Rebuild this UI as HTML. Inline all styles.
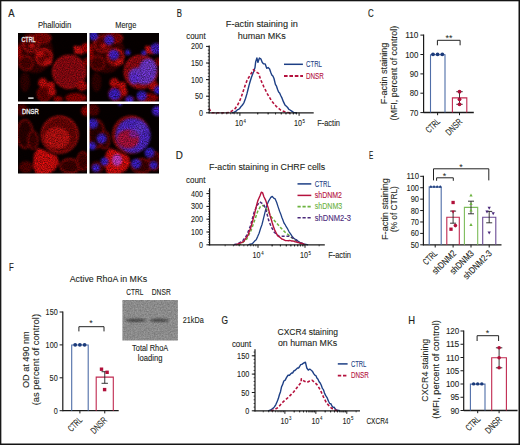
<!DOCTYPE html>
<html><head><meta charset="utf-8"><style>
html,body{margin:0;padding:0;background:#fff;}
svg{display:block;}
text{font-family:"Liberation Sans", sans-serif;}
</style></head><body>
<svg width="520" height="445" viewBox="0 0 520 445">
<rect width="520" height="445" fill="#fff"/>
<text x="8.30" y="17.00" font-size="11.45" fill="#231f20" stroke="#231f20" stroke-width="0.18" textLength="6.30" lengthAdjust="spacingAndGlyphs">A</text>
<text x="176.80" y="17.00" font-size="11.45" fill="#231f20" stroke="#231f20" stroke-width="0.18" textLength="5.20" lengthAdjust="spacingAndGlyphs">B</text>
<text x="368.10" y="17.20" font-size="11.45" fill="#231f20" stroke="#231f20" stroke-width="0.18" textLength="5.70" lengthAdjust="spacingAndGlyphs">C</text>
<text x="175.70" y="159.00" font-size="11.45" fill="#231f20" stroke="#231f20" stroke-width="0.18" textLength="7.10" lengthAdjust="spacingAndGlyphs">D</text>
<text x="369.00" y="159.20" font-size="11.45" fill="#231f20" stroke="#231f20" stroke-width="0.18" textLength="4.20" lengthAdjust="spacingAndGlyphs">E</text>
<text x="8.90" y="271.10" font-size="11.45" fill="#231f20" stroke="#231f20" stroke-width="0.18" textLength="4.70" lengthAdjust="spacingAndGlyphs">F</text>
<text x="221.40" y="324.30" font-size="11.45" fill="#231f20" stroke="#231f20" stroke-width="0.18" textLength="6.50" lengthAdjust="spacingAndGlyphs">G</text>
<text x="408.30" y="324.10" font-size="11.45" fill="#231f20" stroke="#231f20" stroke-width="0.18" textLength="6.80" lengthAdjust="spacingAndGlyphs">H</text>
<defs>
<filter id="bl" x="-20%" y="-20%" width="140%" height="140%"><feGaussianBlur stdDeviation="0.9"/></filter>
<filter id="bl2" x="-20%" y="-20%" width="140%" height="140%"><feGaussianBlur stdDeviation="1.6"/></filter>
<filter id="tx" x="0" y="0" width="1" height="1" color-interpolation-filters="sRGB">
<feGaussianBlur in="SourceGraphic" stdDeviation="0.8" result="b"/>
<feTurbulence type="fractalNoise" baseFrequency="0.85" numOctaves="2" seed="7" result="n"/>
<feColorMatrix in="n" type="matrix" values="1 0 0 0 0  1 0 0 0 0  1 0 0 0 0  0 0 0 0 1" result="g"/>
<feComposite in="b" in2="g" operator="arithmetic" k1="1.2" k2="0.25" k3="0" k4="0"/>
</filter>
<filter id="tx2" x="0" y="0" width="1" height="1" color-interpolation-filters="sRGB">
<feGaussianBlur in="SourceGraphic" stdDeviation="0.6" result="b"/>
<feTurbulence type="fractalNoise" baseFrequency="0.7" numOctaves="2" seed="11" result="n"/>
<feColorMatrix in="n" type="matrix" values="1 0 0 0 0  1 0 0 0 0  1 0 0 0 0  0 0 0 0 1" result="g"/>
<feComposite in="b" in2="g" operator="arithmetic" k1="0.45" k2="0.78" k3="0" k4="0"/>
</filter>
<clipPath id="cblot"><rect x="122.4" y="299.9" width="55.5" height="40.5"/></clipPath>
<clipPath id="ct0"><rect x="18" y="33" width="69" height="68.5"/></clipPath><clipPath id="ct1"><rect x="89.5" y="33" width="69.5" height="68.5"/></clipPath><clipPath id="ct2"><rect x="18" y="104" width="69" height="69.5"/></clipPath><clipPath id="ct3"><rect x="89.5" y="104" width="69.5" height="69.5"/></clipPath></defs>
<g clip-path="url(#ct0)"><g filter="url(#tx)"><rect x="15" y="30" width="75" height="74.5" fill="#060000"/><ellipse cx="35" cy="52" rx="18" ry="21" fill="#380000"/><circle cx="31" cy="44" r="8" fill="#5a0000" stroke="#c41010" stroke-width="1.6"/><circle cx="44" cy="57" r="8" fill="#700404" stroke="#d01010" stroke-width="1.8"/><circle cx="26" cy="63" r="7" fill="#4a0000" stroke="#a00808" stroke-width="1.4"/><ellipse cx="42" cy="38" rx="9" ry="5" fill="#7a0000" stroke="#b00c0c" stroke-width="1.2"/><ellipse cx="48" cy="62" rx="4" ry="3" fill="#d01010"/><ellipse cx="40" cy="54" rx="4" ry="3" fill="#c80c0c"/><ellipse cx="32" cy="46" rx="3" ry="2.5" fill="#d01010"/><ellipse cx="19.5" cy="52" rx="2.5" ry="8" fill="#a00000"/><circle cx="69.2" cy="71.8" r="17" fill="#8c0810"/><circle cx="69.2" cy="71.8" r="16.3" fill="none" stroke="#c81010" stroke-width="1.2"/><ellipse cx="78.6" cy="50" rx="6" ry="3" fill="#d01010" transform="rotate(35 78.6 50)"/><ellipse cx="78.6" cy="50" rx="5.5" ry="2.6" fill="#d01010" transform="rotate(-40 78.6 50)"/><circle cx="86" cy="48" r="5" fill="#a00000"/><circle cx="87" cy="62" r="4" fill="#800000"/><circle cx="42.8" cy="82.7" r="4.7" fill="#c00c0c"/><circle cx="50.6" cy="85.8" r="4" fill="#c80c0c"/><circle cx="44.4" cy="94" r="7" fill="#5a0000" stroke="#a00000" stroke-width="1.4"/><circle cx="52" cy="92" r="4" fill="#c00c0c"/><ellipse cx="76" cy="98" rx="11" ry="5" fill="#8a0000"/><circle cx="82" cy="86" r="5" fill="#b00808"/><ellipse cx="58" cy="99" rx="5" ry="3" fill="#900000"/><ellipse cx="25" cy="82" rx="5" ry="10" fill="#300000"/></g></g>
<g clip-path="url(#ct1)"><g filter="url(#tx)"><rect x="86.5" y="30" width="75.5" height="74.5" fill="#060000"/><ellipse cx="106.5" cy="52" rx="18" ry="21" fill="#380000"/><circle cx="102.5" cy="44" r="8" fill="#5a0000" stroke="#c41010" stroke-width="1.6"/><circle cx="115.5" cy="57" r="8" fill="#700404" stroke="#d01010" stroke-width="1.8"/><circle cx="97.5" cy="63" r="7" fill="#4a0000" stroke="#a00808" stroke-width="1.4"/><ellipse cx="113.5" cy="38" rx="9" ry="5" fill="#7a0000" stroke="#b00c0c" stroke-width="1.2"/><ellipse cx="119.5" cy="62" rx="4" ry="3" fill="#d01010"/><ellipse cx="111.5" cy="54" rx="4" ry="3" fill="#c80c0c"/><ellipse cx="103.5" cy="46" rx="3" ry="2.5" fill="#d01010"/><ellipse cx="91.0" cy="52" rx="2.5" ry="8" fill="#a00000"/><circle cx="140.7" cy="71.8" r="17" fill="#8c0810"/><circle cx="140.7" cy="71.8" r="16.3" fill="none" stroke="#c81010" stroke-width="1.2"/><ellipse cx="150.1" cy="50" rx="6" ry="3" fill="#d01010" transform="rotate(35 150.1 50)"/><ellipse cx="150.1" cy="50" rx="5.5" ry="2.6" fill="#d01010" transform="rotate(-40 150.1 50)"/><circle cx="157.5" cy="48" r="5" fill="#a00000"/><circle cx="158.5" cy="62" r="4" fill="#800000"/><circle cx="114.3" cy="82.7" r="4.7" fill="#c00c0c"/><circle cx="122.1" cy="85.8" r="4" fill="#c80c0c"/><circle cx="115.9" cy="94" r="7" fill="#5a0000" stroke="#a00000" stroke-width="1.4"/><circle cx="123.5" cy="92" r="4" fill="#c00c0c"/><ellipse cx="147.5" cy="98" rx="11" ry="5" fill="#8a0000"/><circle cx="153.5" cy="86" r="5" fill="#b00808"/><ellipse cx="129.5" cy="99" rx="5" ry="3" fill="#900000"/><ellipse cx="96.5" cy="82" rx="5" ry="10" fill="#300000"/><g opacity="0.9"><circle cx="93.7" cy="36" r="4.5" fill="#3a22d8"/><circle cx="109.2" cy="40" r="5" fill="#3a22d8"/><circle cx="113.8" cy="54.7" r="5.2" fill="#3a22d8"/><circle cx="127.8" cy="52.4" r="2.6" fill="#3a22d8"/><circle cx="144" cy="52.9" r="2.5" fill="#3a22d8"/><circle cx="156" cy="48.5" r="5.5" fill="#3a22d8"/><circle cx="114.6" cy="94.3" r="6" fill="#3a22d8"/><circle cx="141.8" cy="95.9" r="5" fill="#3a22d8"/><circle cx="129.4" cy="100" r="4" fill="#3a22d8"/><circle cx="158" cy="90" r="4" fill="#3a22d8"/><path d="M129,79 C127,71 133,67 139,68 C140,61 146,57 151,59 C158,62 158,72 155,78 C152,85 143,86 138,83 C134,86 130,84 129,79 Z" fill="#6a3ae0"/><circle cx="134.5" cy="78" r="5" fill="#5a30e8"/><circle cx="150" cy="66" r="5" fill="#7040e0"/></g></g></g>
<g clip-path="url(#ct2)"><g filter="url(#tx)"><rect x="15" y="101" width="75" height="75.5" fill="#060000"/><ellipse cx="22" cy="110" rx="6" ry="6" fill="#500000"/><ellipse cx="25" cy="134" rx="8" ry="14" fill="#2a0000" stroke="#a00808" stroke-width="1.5"/><ellipse cx="33" cy="140" rx="5" ry="9" fill="#3a0000" stroke="#a00808" stroke-width="1.2"/><circle cx="59.7" cy="134.7" r="18.9" fill="#6a0404"/><circle cx="59.7" cy="134.7" r="18.2" fill="none" stroke="#c01010" stroke-width="1.3"/><ellipse cx="57" cy="138" rx="13" ry="11" fill="#b81010"/><circle cx="86" cy="111" r="5" fill="#900000"/><path d="M34,154 L38,148 L44,150 L50,153 L57,156 L59,163 L55,170 L48,174 L36,174 L33,166 Z" fill="#d00c0c"/><ellipse cx="26" cy="167" rx="7" ry="6" fill="#500000"/><ellipse cx="70" cy="166" rx="10" ry="7" fill="#3a0000" stroke="#b00a0a" stroke-width="1.4"/><ellipse cx="83" cy="161" rx="6" ry="9" fill="#400000" stroke="#a00808" stroke-width="1.3"/></g></g>
<g clip-path="url(#ct3)"><g filter="url(#tx)"><rect x="86.5" y="101" width="75.5" height="75.5" fill="#060000"/><ellipse cx="93.5" cy="110" rx="6" ry="6" fill="#500000"/><ellipse cx="96.5" cy="134" rx="8" ry="14" fill="#2a0000" stroke="#a00808" stroke-width="1.5"/><ellipse cx="104.5" cy="140" rx="5" ry="9" fill="#3a0000" stroke="#a00808" stroke-width="1.2"/><circle cx="131.2" cy="134.7" r="18.9" fill="#6a0404"/><circle cx="131.2" cy="134.7" r="18.2" fill="none" stroke="#c01010" stroke-width="1.3"/><ellipse cx="128.5" cy="138" rx="13" ry="11" fill="#b81010"/><circle cx="157.5" cy="111" r="5" fill="#900000"/><path d="M105.5,154 L109.5,148 L115.5,150 L121.5,153 L128.5,156 L130.5,163 L126.5,170 L119.5,174 L107.5,174 L104.5,166 Z" fill="#d00c0c"/><ellipse cx="97.5" cy="167" rx="7" ry="6" fill="#500000"/><ellipse cx="141.5" cy="166" rx="10" ry="7" fill="#3a0000" stroke="#b00a0a" stroke-width="1.4"/><ellipse cx="154.5" cy="161" rx="6" ry="9" fill="#400000" stroke="#a00808" stroke-width="1.3"/><g opacity="0.9"><circle cx="133" cy="135.5" r="17.5" fill="#4a2ad8"/><ellipse cx="128" cy="139" rx="11" ry="9.5" fill="#a81040"/><ellipse cx="134" cy="134" rx="5" ry="4" fill="#8020a0"/><ellipse cx="140" cy="128" rx="5" ry="6" fill="#5a38e0"/><circle cx="93" cy="123.7" r="5" fill="#3a22d8"/><circle cx="101.6" cy="138.6" r="5" fill="#3a22d8"/><circle cx="92" cy="146" r="4" fill="#3a22d8"/><circle cx="104.7" cy="161.4" r="4" fill="#3a22d8"/><circle cx="136.2" cy="163.8" r="5" fill="#3a22d8"/><circle cx="149.6" cy="152.8" r="5" fill="#3a22d8"/><circle cx="153.5" cy="165.3" r="4" fill="#3a22d8"/><circle cx="157" cy="111" r="5" fill="#3a22d8"/><circle cx="96" cy="168" r="4" fill="#3a22d8"/><circle cx="120" cy="104" r="2" fill="#3a22d8"/><ellipse cx="117" cy="160" rx="5" ry="6" fill="#c040d0"/></g></g></g>
<text x="21.50" y="42.20" font-size="7.56" fill="#ececec" stroke="#ececec" stroke-width="0.35" textLength="14.00" lengthAdjust="spacingAndGlyphs">CTRL</text>
<text x="22.00" y="113.80" font-size="7.56" fill="#ececec" stroke="#ececec" stroke-width="0.35" textLength="16.80" lengthAdjust="spacingAndGlyphs">DNSR</text>
<rect x="28.2" y="97.4" width="5.4" height="1.4" fill="#f4f4f4"/>
<text x="37.90" y="27.90" font-size="8.21" fill="#231f20" stroke="#231f20" stroke-width="0.1" textLength="33.40" lengthAdjust="spacingAndGlyphs">Phalloidin</text>
<text x="115.20" y="27.70" font-size="8.21" fill="#231f20" stroke="#231f20" stroke-width="0.1" textLength="21.10" lengthAdjust="spacingAndGlyphs">Merge</text>
<text x="225.80" y="27.10" font-size="9.83" fill="#231f20" stroke="#231f20" stroke-width="0.1" textLength="72.00" lengthAdjust="spacingAndGlyphs">F-actin staining in</text>
<text x="237.70" y="38.60" font-size="9.83" fill="#231f20" stroke="#231f20" stroke-width="0.1" textLength="48.10" lengthAdjust="spacingAndGlyphs">human MKs</text>
<text x="186.30" y="39.00" font-size="8.21" fill="#231f20" stroke="#231f20" stroke-width="0.1" textLength="19.30" lengthAdjust="spacingAndGlyphs">count</text>
<path d="M232.00,112.80 L233.80,112.50 L235.15,111.65 L236.50,110.80 L237.53,109.61 L238.57,109.34 L239.60,108.50 L240.80,106.79 L242.00,105.50 L243.00,104.22 L244.00,102.60 L245.50,98.50 L246.90,93.90 L248.00,89.50 L249.10,85.10 L250.20,81.20 L251.30,77.80 L252.40,74.80 L253.50,71.90 L255.00,67.50 L255.70,61.70 L256.90,58.00 L257.90,62.40 L259.40,58.00 L260.80,58.80 L262.30,62.40 L263.70,63.90 L265.20,63.90 L266.70,68.30 L268.10,67.50 L269.60,69.00 L270.70,72.15 L271.80,74.90 L272.90,76.00 L274.00,78.50 L275.40,84.40 L276.50,86.17 L277.60,89.50 L278.60,91.97 L279.60,92.98 L280.60,95.30 L282.05,98.17 L283.50,101.90 L284.95,104.89 L286.40,106.30 L287.63,107.49 L288.87,109.31 L290.10,110.00 L291.30,110.83 L292.50,111.67 L293.70,112.50 L294.80,112.60 L295.90,112.70 L297.00,112.80" fill="none" stroke="#1d3f85" stroke-width="1.4" stroke-linejoin="round"/>
<path d="M209.20,108.50 L210.50,111.00 L212.00,112.80 L225.00,112.80 L229.40,112.50 L232.00,110.80 L235.20,108.50 L237.50,105.20 L239.60,101.20 L241.50,96.30 L243.30,90.90 L245.00,85.80 L246.90,80.70 L248.40,78.00 L249.90,75.60 L251.70,72.60 L253.50,69.70 L255.70,71.90 L258.60,73.40 L260.80,80.00 L263.70,86.50 L267.40,93.90 L271.80,101.20 L276.20,106.30 L280.60,110.00 L286.40,112.50 L290.00,112.80" fill="none" stroke="#b5123e" stroke-width="1.6" stroke-linejoin="round" stroke-dasharray="2.9 1.9"/>
<line x1="209.20" y1="45.60" x2="209.20" y2="113.40" stroke="#1a1a1a" stroke-width="1.2"/>
<line x1="206.00" y1="46.40" x2="209.20" y2="46.40" stroke="#1a1a1a" stroke-width="1.0"/>
<text x="191.00" y="49.40" font-size="8.64" fill="#231f20" stroke="#231f20" stroke-width="0.1" textLength="12.00" lengthAdjust="spacingAndGlyphs">200</text>
<line x1="206.00" y1="63.00" x2="209.20" y2="63.00" stroke="#1a1a1a" stroke-width="1.0"/>
<text x="191.00" y="66.00" font-size="8.64" fill="#231f20" stroke="#231f20" stroke-width="0.1" textLength="12.00" lengthAdjust="spacingAndGlyphs">150</text>
<line x1="206.00" y1="79.60" x2="209.20" y2="79.60" stroke="#1a1a1a" stroke-width="1.0"/>
<text x="191.00" y="82.60" font-size="8.64" fill="#231f20" stroke="#231f20" stroke-width="0.1" textLength="12.00" lengthAdjust="spacingAndGlyphs">100</text>
<line x1="206.00" y1="96.20" x2="209.20" y2="96.20" stroke="#1a1a1a" stroke-width="1.0"/>
<text x="195.00" y="99.20" font-size="8.64" fill="#231f20" stroke="#231f20" stroke-width="0.1" textLength="8.00" lengthAdjust="spacingAndGlyphs">50</text>
<line x1="206.00" y1="112.80" x2="209.20" y2="112.80" stroke="#1a1a1a" stroke-width="1.0"/>
<text x="199.00" y="115.80" font-size="8.64" fill="#231f20" stroke="#231f20" stroke-width="0.1" textLength="4.00" lengthAdjust="spacingAndGlyphs">0</text>
<line x1="207.80" y1="112.80" x2="209.20" y2="112.80" stroke="#1a1a1a" stroke-width="0.8"/>
<line x1="207.80" y1="109.50" x2="209.20" y2="109.50" stroke="#1a1a1a" stroke-width="0.8"/>
<line x1="207.80" y1="106.20" x2="209.20" y2="106.20" stroke="#1a1a1a" stroke-width="0.8"/>
<line x1="207.80" y1="102.90" x2="209.20" y2="102.90" stroke="#1a1a1a" stroke-width="0.8"/>
<line x1="207.80" y1="99.60" x2="209.20" y2="99.60" stroke="#1a1a1a" stroke-width="0.8"/>
<line x1="207.80" y1="96.30" x2="209.20" y2="96.30" stroke="#1a1a1a" stroke-width="0.8"/>
<line x1="207.80" y1="93.00" x2="209.20" y2="93.00" stroke="#1a1a1a" stroke-width="0.8"/>
<line x1="207.80" y1="89.70" x2="209.20" y2="89.70" stroke="#1a1a1a" stroke-width="0.8"/>
<line x1="207.80" y1="86.40" x2="209.20" y2="86.40" stroke="#1a1a1a" stroke-width="0.8"/>
<line x1="207.80" y1="83.10" x2="209.20" y2="83.10" stroke="#1a1a1a" stroke-width="0.8"/>
<line x1="207.80" y1="79.80" x2="209.20" y2="79.80" stroke="#1a1a1a" stroke-width="0.8"/>
<line x1="207.80" y1="76.50" x2="209.20" y2="76.50" stroke="#1a1a1a" stroke-width="0.8"/>
<line x1="207.80" y1="73.20" x2="209.20" y2="73.20" stroke="#1a1a1a" stroke-width="0.8"/>
<line x1="207.80" y1="69.90" x2="209.20" y2="69.90" stroke="#1a1a1a" stroke-width="0.8"/>
<line x1="207.80" y1="66.60" x2="209.20" y2="66.60" stroke="#1a1a1a" stroke-width="0.8"/>
<line x1="207.80" y1="63.30" x2="209.20" y2="63.30" stroke="#1a1a1a" stroke-width="0.8"/>
<line x1="207.80" y1="60.00" x2="209.20" y2="60.00" stroke="#1a1a1a" stroke-width="0.8"/>
<line x1="207.80" y1="56.70" x2="209.20" y2="56.70" stroke="#1a1a1a" stroke-width="0.8"/>
<line x1="207.80" y1="53.40" x2="209.20" y2="53.40" stroke="#1a1a1a" stroke-width="0.8"/>
<line x1="207.80" y1="50.10" x2="209.20" y2="50.10" stroke="#1a1a1a" stroke-width="0.8"/>
<line x1="207.80" y1="46.80" x2="209.20" y2="46.80" stroke="#1a1a1a" stroke-width="0.8"/>
<line x1="209.20" y1="112.80" x2="313.70" y2="112.80" stroke="#1a1a1a" stroke-width="1.2"/>
<line x1="239.90" y1="112.80" x2="239.90" y2="115.80" stroke="#1a1a1a" stroke-width="1.0"/>
<line x1="257.72" y1="112.80" x2="257.72" y2="114.30" stroke="#1a1a1a" stroke-width="0.8"/>
<line x1="268.15" y1="112.80" x2="268.15" y2="114.30" stroke="#1a1a1a" stroke-width="0.8"/>
<line x1="216.34" y1="112.80" x2="216.34" y2="114.30" stroke="#1a1a1a" stroke-width="0.8"/>
<line x1="275.54" y1="112.80" x2="275.54" y2="114.30" stroke="#1a1a1a" stroke-width="0.8"/>
<line x1="222.08" y1="112.80" x2="222.08" y2="114.30" stroke="#1a1a1a" stroke-width="0.8"/>
<line x1="281.28" y1="112.80" x2="281.28" y2="114.30" stroke="#1a1a1a" stroke-width="0.8"/>
<line x1="226.77" y1="112.80" x2="226.77" y2="114.30" stroke="#1a1a1a" stroke-width="0.8"/>
<line x1="285.97" y1="112.80" x2="285.97" y2="114.30" stroke="#1a1a1a" stroke-width="0.8"/>
<line x1="230.73" y1="112.80" x2="230.73" y2="114.30" stroke="#1a1a1a" stroke-width="0.8"/>
<line x1="289.93" y1="112.80" x2="289.93" y2="114.30" stroke="#1a1a1a" stroke-width="0.8"/>
<line x1="234.16" y1="112.80" x2="234.16" y2="114.30" stroke="#1a1a1a" stroke-width="0.8"/>
<line x1="293.36" y1="112.80" x2="293.36" y2="114.30" stroke="#1a1a1a" stroke-width="0.8"/>
<line x1="237.19" y1="112.80" x2="237.19" y2="114.30" stroke="#1a1a1a" stroke-width="0.8"/>
<line x1="296.39" y1="112.80" x2="296.39" y2="114.30" stroke="#1a1a1a" stroke-width="0.8"/>
<line x1="299.10" y1="112.80" x2="299.10" y2="115.80" stroke="#1a1a1a" stroke-width="1.0"/>
<line x1="257.72" y1="112.80" x2="257.72" y2="114.30" stroke="#1a1a1a" stroke-width="0.8"/>
<line x1="268.15" y1="112.80" x2="268.15" y2="114.30" stroke="#1a1a1a" stroke-width="0.8"/>
<line x1="275.54" y1="112.80" x2="275.54" y2="114.30" stroke="#1a1a1a" stroke-width="0.8"/>
<line x1="281.28" y1="112.80" x2="281.28" y2="114.30" stroke="#1a1a1a" stroke-width="0.8"/>
<line x1="285.97" y1="112.80" x2="285.97" y2="114.30" stroke="#1a1a1a" stroke-width="0.8"/>
<line x1="289.93" y1="112.80" x2="289.93" y2="114.30" stroke="#1a1a1a" stroke-width="0.8"/>
<line x1="293.36" y1="112.80" x2="293.36" y2="114.30" stroke="#1a1a1a" stroke-width="0.8"/>
<line x1="296.39" y1="112.80" x2="296.39" y2="114.30" stroke="#1a1a1a" stroke-width="0.8"/>
<text x="234.90" y="126.00" font-size="8.21" fill="#231f20" stroke="#231f20" stroke-width="0.1" textLength="8.00" lengthAdjust="spacingAndGlyphs">10</text>
<text x="243.50" y="122.60" font-size="6.05" fill="#231f20" stroke="#231f20" stroke-width="0.1" textLength="2.40" lengthAdjust="spacingAndGlyphs">4</text>
<text x="293.90" y="126.00" font-size="8.21" fill="#231f20" stroke="#231f20" stroke-width="0.1" textLength="8.00" lengthAdjust="spacingAndGlyphs">10</text>
<text x="302.50" y="122.60" font-size="6.05" fill="#231f20" stroke="#231f20" stroke-width="0.1" textLength="2.40" lengthAdjust="spacingAndGlyphs">5</text>
<text x="317.20" y="126.40" font-size="8.42" fill="#231f20" stroke="#231f20" stroke-width="0.1" textLength="22.80" lengthAdjust="spacingAndGlyphs">F-actin</text>
<line x1="284.00" y1="64.30" x2="302.90" y2="64.30" stroke="#1d3f85" stroke-width="1.5"/>
<text x="306.00" y="67.10" font-size="8.32" fill="#1d3f85" stroke="#1d3f85" stroke-width="0.1" textLength="16.00" lengthAdjust="spacingAndGlyphs">CTRL</text>
<line x1="284.00" y1="76.00" x2="303.00" y2="76.00" stroke="#b5123e" stroke-width="1.9" stroke-dasharray="3.6 1.8"/>
<text x="306.00" y="78.70" font-size="8.32" fill="#b5123e" stroke="#b5123e" stroke-width="0.1" textLength="17.90" lengthAdjust="spacingAndGlyphs">DNSR</text>
<text x="356.05" y="73.40" font-size="9.5" fill="#231f20" stroke="#231f20" stroke-width="0.1" textLength="61.50" lengthAdjust="spacingAndGlyphs" transform="rotate(-90 386.80 73.40)">F-actin staining</text>
<text x="350.10" y="73.10" font-size="9.5" fill="#231f20" stroke="#231f20" stroke-width="0.1" textLength="94.60" lengthAdjust="spacingAndGlyphs" transform="rotate(-90 397.40 73.10)">(MFI, percent of control)</text>
<line x1="423.60" y1="34.60" x2="423.60" y2="113.10" stroke="#1a1a1a" stroke-width="1.2"/>
<line x1="420.40" y1="35.10" x2="423.60" y2="35.10" stroke="#1a1a1a" stroke-width="1.0"/>
<text x="405.20" y="38.10" font-size="8.64" fill="#231f20" stroke="#231f20" stroke-width="0.1" textLength="13.20" lengthAdjust="spacingAndGlyphs">110</text>
<line x1="420.40" y1="54.50" x2="423.60" y2="54.50" stroke="#1a1a1a" stroke-width="1.0"/>
<text x="405.20" y="57.50" font-size="8.64" fill="#231f20" stroke="#231f20" stroke-width="0.1" textLength="13.20" lengthAdjust="spacingAndGlyphs">100</text>
<line x1="420.40" y1="73.90" x2="423.60" y2="73.90" stroke="#1a1a1a" stroke-width="1.0"/>
<text x="409.80" y="76.90" font-size="8.64" fill="#231f20" stroke="#231f20" stroke-width="0.1" textLength="8.60" lengthAdjust="spacingAndGlyphs">90</text>
<line x1="420.40" y1="93.20" x2="423.60" y2="93.20" stroke="#1a1a1a" stroke-width="1.0"/>
<text x="409.80" y="96.20" font-size="8.64" fill="#231f20" stroke="#231f20" stroke-width="0.1" textLength="8.60" lengthAdjust="spacingAndGlyphs">80</text>
<line x1="420.40" y1="112.60" x2="423.60" y2="112.60" stroke="#1a1a1a" stroke-width="1.0"/>
<text x="409.80" y="115.60" font-size="8.64" fill="#231f20" stroke="#231f20" stroke-width="0.1" textLength="8.60" lengthAdjust="spacingAndGlyphs">70</text>
<line x1="423.60" y1="112.50" x2="473.80" y2="112.50" stroke="#1a1a1a" stroke-width="1.3"/>
<line x1="437.60" y1="112.50" x2="437.60" y2="115.20" stroke="#1a1a1a" stroke-width="1.0"/>
<line x1="459.50" y1="112.50" x2="459.50" y2="115.20" stroke="#1a1a1a" stroke-width="1.0"/>
<path d="M430.50,112.50 L430.50,54.80 L445.00,54.80 L445.00,112.50" fill="none" stroke="#4f6ea8" stroke-width="1.1"/>
<circle cx="433.00" cy="54.30" r="1.9" fill="#1b3a7a"/>
<circle cx="437.60" cy="54.30" r="1.9" fill="#1b3a7a"/>
<circle cx="442.30" cy="54.30" r="1.9" fill="#1b3a7a"/>
<path d="M452.40,112.50 L452.40,97.90 L466.80,97.90 L466.80,112.50" fill="none" stroke="#c0284f" stroke-width="1.1"/>
<line x1="459.50" y1="91.70" x2="459.50" y2="104.30" stroke="#222" stroke-width="0.9"/>
<line x1="456.30" y1="91.70" x2="462.70" y2="91.70" stroke="#222" stroke-width="0.9"/>
<line x1="456.30" y1="104.30" x2="462.70" y2="104.30" stroke="#222" stroke-width="0.9"/>
<circle cx="459.50" cy="91.70" r="1.9" fill="#b0103a"/>
<circle cx="459.50" cy="99.30" r="1.9" fill="#b0103a"/>
<circle cx="459.50" cy="104.30" r="1.9" fill="#b0103a"/>
<path d="M437.40,45.30 L437.40,40.30 L460.10,40.30 L460.10,45.30" fill="none" stroke="#222" stroke-width="1.0"/>
<text x="449.10" y="41.04" font-size="9.0" fill="#231f20" text-anchor="middle">**</text>
<text x="424.50" y="122.10" font-size="9.29" fill="#231f20" stroke="#231f20" stroke-width="0.1" textLength="16.30" lengthAdjust="spacingAndGlyphs" transform="rotate(-45 440.80 122.10)">CTRL</text>
<text x="443.70" y="122.30" font-size="9.29" fill="#231f20" stroke="#231f20" stroke-width="0.1" textLength="19.30" lengthAdjust="spacingAndGlyphs" transform="rotate(-45 463.00 122.30)">DNSR</text>
<text x="209.00" y="170.10" font-size="9.83" fill="#231f20" stroke="#231f20" stroke-width="0.1" textLength="116.20" lengthAdjust="spacingAndGlyphs">F-actin staining in CHRF cells</text>
<text x="186.10" y="183.10" font-size="8.21" fill="#231f20" stroke="#231f20" stroke-width="0.1" textLength="19.40" lengthAdjust="spacingAndGlyphs">count</text>
<path d="M248.20,244.80 L249.27,244.48 L250.35,244.15 L251.43,243.82 L252.50,243.50 L253.73,242.13 L254.97,240.75 L256.20,239.80 L257.65,236.62 L259.10,233.20 L260.55,228.51 L262.00,224.50 L263.10,220.13 L264.20,215.70 L265.30,211.19 L266.40,206.90 L267.50,203.65 L268.60,201.10 L269.70,199.26 L270.80,197.40 L272.30,196.40 L273.70,198.20 L275.20,198.90 L276.70,202.50 L278.10,206.90 L279.60,211.30 L280.70,213.88 L281.80,217.20 L282.90,220.05 L284.00,223.00 L285.10,224.51 L286.20,226.70 L287.65,228.92 L289.10,231.80 L290.55,233.94 L292.00,236.20 L293.45,237.91 L294.90,239.10 L296.00,239.52 L297.10,240.33 L298.20,241.38 L299.30,242.00 L300.40,242.81 L301.50,242.90 L302.60,243.35 L303.70,243.80 L304.80,244.05 L305.90,244.30 L307.00,244.55 L308.10,244.80" fill="none" stroke="#1d3f85" stroke-width="1.3" stroke-linejoin="round"/>
<path d="M238.00,244.80 L240.80,244.20 L246.70,239.10 L251.10,230.30 L254.70,220.10 L257.70,211.30 L260.60,206.20 L262.80,205.50 L265.00,206.90 L267.90,211.30 L271.50,217.20 L275.90,222.30 L280.30,227.40 L284.70,231.80 L289.10,235.40 L293.50,239.10 L297.90,242.00 L302.30,244.20" fill="none" stroke="#6cb33f" stroke-width="1.5" stroke-linejoin="round" stroke-dasharray="3.0 1.8"/>
<path d="M234.00,244.80 L236.50,244.00 L242.30,241.30 L246.70,235.40 L250.40,225.90 L254.00,212.80 L256.90,205.50 L259.90,201.80 L262.00,203.30 L264.20,205.50 L266.40,211.30 L268.60,220.10 L271.50,227.40 L274.50,232.50 L278.90,236.20 L283.20,236.20 L289.10,236.20 L293.50,238.40 L297.90,241.30 L302.30,244.20" fill="none" stroke="#4b2a7b" stroke-width="1.5" stroke-linejoin="round" stroke-dasharray="3.0 1.8"/>
<path d="M236.00,244.80 L237.90,244.00 L238.93,243.60 L239.97,243.20 L241.00,242.80 L242.40,242.03 L243.80,241.30 L245.00,239.52 L246.20,237.68 L247.40,236.20 L248.40,233.99 L249.40,231.04 L250.40,228.90 L251.85,223.75 L253.30,218.60 L254.40,214.49 L255.50,209.90 L256.60,205.25 L257.70,201.10 L258.80,198.58 L259.90,196.00 L261.30,192.30 L262.50,192.60 L263.90,196.70 L265.70,200.40 L266.80,203.72 L267.90,206.90 L269.00,211.02 L270.10,215.70 L271.20,219.28 L272.30,223.00 L273.40,226.42 L274.50,229.60 L275.95,232.47 L277.40,235.40 L278.50,236.46 L279.60,237.04 L280.70,238.02 L281.80,239.10 L282.90,239.24 L284.00,239.85 L285.10,240.48 L286.20,240.60 L287.30,240.65 L288.40,240.76 L289.50,240.53 L290.60,240.60 L291.76,241.03 L292.92,240.92 L294.08,241.31 L295.24,241.82 L296.40,242.00 L297.58,242.44 L298.76,242.55 L299.94,242.90 L301.12,243.20 L302.30,243.50 L303.75,244.15 L305.20,244.80" fill="none" stroke="#b5123e" stroke-width="1.4" stroke-linejoin="round"/>
<line x1="209.60" y1="188.20" x2="209.60" y2="245.40" stroke="#1a1a1a" stroke-width="1.2"/>
<line x1="206.40" y1="193.60" x2="209.60" y2="193.60" stroke="#1a1a1a" stroke-width="1.0"/>
<text x="191.00" y="196.60" font-size="8.64" fill="#231f20" stroke="#231f20" stroke-width="0.1" textLength="12.00" lengthAdjust="spacingAndGlyphs">400</text>
<line x1="206.40" y1="206.40" x2="209.60" y2="206.40" stroke="#1a1a1a" stroke-width="1.0"/>
<text x="191.00" y="209.40" font-size="8.64" fill="#231f20" stroke="#231f20" stroke-width="0.1" textLength="12.00" lengthAdjust="spacingAndGlyphs">300</text>
<line x1="206.40" y1="219.20" x2="209.60" y2="219.20" stroke="#1a1a1a" stroke-width="1.0"/>
<text x="191.00" y="222.20" font-size="8.64" fill="#231f20" stroke="#231f20" stroke-width="0.1" textLength="12.00" lengthAdjust="spacingAndGlyphs">200</text>
<line x1="206.40" y1="232.00" x2="209.60" y2="232.00" stroke="#1a1a1a" stroke-width="1.0"/>
<text x="191.00" y="235.00" font-size="8.64" fill="#231f20" stroke="#231f20" stroke-width="0.1" textLength="12.00" lengthAdjust="spacingAndGlyphs">100</text>
<line x1="206.40" y1="244.80" x2="209.60" y2="244.80" stroke="#1a1a1a" stroke-width="1.0"/>
<text x="199.00" y="247.80" font-size="8.64" fill="#231f20" stroke="#231f20" stroke-width="0.1" textLength="4.00" lengthAdjust="spacingAndGlyphs">0</text>
<line x1="208.20" y1="244.80" x2="209.60" y2="244.80" stroke="#1a1a1a" stroke-width="0.8"/>
<line x1="208.20" y1="242.24" x2="209.60" y2="242.24" stroke="#1a1a1a" stroke-width="0.8"/>
<line x1="208.20" y1="239.68" x2="209.60" y2="239.68" stroke="#1a1a1a" stroke-width="0.8"/>
<line x1="208.20" y1="237.12" x2="209.60" y2="237.12" stroke="#1a1a1a" stroke-width="0.8"/>
<line x1="208.20" y1="234.56" x2="209.60" y2="234.56" stroke="#1a1a1a" stroke-width="0.8"/>
<line x1="208.20" y1="232.00" x2="209.60" y2="232.00" stroke="#1a1a1a" stroke-width="0.8"/>
<line x1="208.20" y1="229.44" x2="209.60" y2="229.44" stroke="#1a1a1a" stroke-width="0.8"/>
<line x1="208.20" y1="226.88" x2="209.60" y2="226.88" stroke="#1a1a1a" stroke-width="0.8"/>
<line x1="208.20" y1="224.32" x2="209.60" y2="224.32" stroke="#1a1a1a" stroke-width="0.8"/>
<line x1="208.20" y1="221.76" x2="209.60" y2="221.76" stroke="#1a1a1a" stroke-width="0.8"/>
<line x1="208.20" y1="219.20" x2="209.60" y2="219.20" stroke="#1a1a1a" stroke-width="0.8"/>
<line x1="208.20" y1="216.64" x2="209.60" y2="216.64" stroke="#1a1a1a" stroke-width="0.8"/>
<line x1="208.20" y1="214.08" x2="209.60" y2="214.08" stroke="#1a1a1a" stroke-width="0.8"/>
<line x1="208.20" y1="211.52" x2="209.60" y2="211.52" stroke="#1a1a1a" stroke-width="0.8"/>
<line x1="208.20" y1="208.96" x2="209.60" y2="208.96" stroke="#1a1a1a" stroke-width="0.8"/>
<line x1="208.20" y1="206.40" x2="209.60" y2="206.40" stroke="#1a1a1a" stroke-width="0.8"/>
<line x1="208.20" y1="203.84" x2="209.60" y2="203.84" stroke="#1a1a1a" stroke-width="0.8"/>
<line x1="208.20" y1="201.28" x2="209.60" y2="201.28" stroke="#1a1a1a" stroke-width="0.8"/>
<line x1="208.20" y1="198.72" x2="209.60" y2="198.72" stroke="#1a1a1a" stroke-width="0.8"/>
<line x1="208.20" y1="196.16" x2="209.60" y2="196.16" stroke="#1a1a1a" stroke-width="0.8"/>
<line x1="208.20" y1="193.60" x2="209.60" y2="193.60" stroke="#1a1a1a" stroke-width="0.8"/>
<line x1="208.20" y1="191.04" x2="209.60" y2="191.04" stroke="#1a1a1a" stroke-width="0.8"/>
<line x1="209.60" y1="244.80" x2="324.80" y2="244.80" stroke="#1a1a1a" stroke-width="1.2"/>
<line x1="258.00" y1="244.80" x2="258.00" y2="247.80" stroke="#1a1a1a" stroke-width="1.0"/>
<line x1="225.15" y1="244.80" x2="225.15" y2="246.30" stroke="#1a1a1a" stroke-width="0.8"/>
<line x1="272.15" y1="244.80" x2="272.15" y2="246.30" stroke="#1a1a1a" stroke-width="0.8"/>
<line x1="233.42" y1="244.80" x2="233.42" y2="246.30" stroke="#1a1a1a" stroke-width="0.8"/>
<line x1="280.42" y1="244.80" x2="280.42" y2="246.30" stroke="#1a1a1a" stroke-width="0.8"/>
<line x1="239.30" y1="244.80" x2="239.30" y2="246.30" stroke="#1a1a1a" stroke-width="0.8"/>
<line x1="286.30" y1="244.80" x2="286.30" y2="246.30" stroke="#1a1a1a" stroke-width="0.8"/>
<line x1="243.85" y1="244.80" x2="243.85" y2="246.30" stroke="#1a1a1a" stroke-width="0.8"/>
<line x1="290.85" y1="244.80" x2="290.85" y2="246.30" stroke="#1a1a1a" stroke-width="0.8"/>
<line x1="247.57" y1="244.80" x2="247.57" y2="246.30" stroke="#1a1a1a" stroke-width="0.8"/>
<line x1="294.57" y1="244.80" x2="294.57" y2="246.30" stroke="#1a1a1a" stroke-width="0.8"/>
<line x1="250.72" y1="244.80" x2="250.72" y2="246.30" stroke="#1a1a1a" stroke-width="0.8"/>
<line x1="297.72" y1="244.80" x2="297.72" y2="246.30" stroke="#1a1a1a" stroke-width="0.8"/>
<line x1="253.45" y1="244.80" x2="253.45" y2="246.30" stroke="#1a1a1a" stroke-width="0.8"/>
<line x1="300.45" y1="244.80" x2="300.45" y2="246.30" stroke="#1a1a1a" stroke-width="0.8"/>
<line x1="255.85" y1="244.80" x2="255.85" y2="246.30" stroke="#1a1a1a" stroke-width="0.8"/>
<line x1="302.85" y1="244.80" x2="302.85" y2="246.30" stroke="#1a1a1a" stroke-width="0.8"/>
<line x1="305.00" y1="244.80" x2="305.00" y2="247.80" stroke="#1a1a1a" stroke-width="1.0"/>
<line x1="272.15" y1="244.80" x2="272.15" y2="246.30" stroke="#1a1a1a" stroke-width="0.8"/>
<line x1="319.15" y1="244.80" x2="319.15" y2="246.30" stroke="#1a1a1a" stroke-width="0.8"/>
<line x1="280.42" y1="244.80" x2="280.42" y2="246.30" stroke="#1a1a1a" stroke-width="0.8"/>
<line x1="286.30" y1="244.80" x2="286.30" y2="246.30" stroke="#1a1a1a" stroke-width="0.8"/>
<line x1="290.85" y1="244.80" x2="290.85" y2="246.30" stroke="#1a1a1a" stroke-width="0.8"/>
<line x1="294.57" y1="244.80" x2="294.57" y2="246.30" stroke="#1a1a1a" stroke-width="0.8"/>
<line x1="297.72" y1="244.80" x2="297.72" y2="246.30" stroke="#1a1a1a" stroke-width="0.8"/>
<line x1="300.45" y1="244.80" x2="300.45" y2="246.30" stroke="#1a1a1a" stroke-width="0.8"/>
<line x1="302.85" y1="244.80" x2="302.85" y2="246.30" stroke="#1a1a1a" stroke-width="0.8"/>
<text x="252.60" y="258.40" font-size="8.21" fill="#231f20" stroke="#231f20" stroke-width="0.1" textLength="8.00" lengthAdjust="spacingAndGlyphs">10</text>
<text x="261.20" y="255.00" font-size="6.05" fill="#231f20" stroke="#231f20" stroke-width="0.1" textLength="2.40" lengthAdjust="spacingAndGlyphs">4</text>
<text x="299.90" y="258.40" font-size="8.21" fill="#231f20" stroke="#231f20" stroke-width="0.1" textLength="8.00" lengthAdjust="spacingAndGlyphs">10</text>
<text x="308.50" y="255.00" font-size="6.05" fill="#231f20" stroke="#231f20" stroke-width="0.1" textLength="2.40" lengthAdjust="spacingAndGlyphs">5</text>
<text x="328.20" y="258.20" font-size="8.42" fill="#231f20" stroke="#231f20" stroke-width="0.1" textLength="22.80" lengthAdjust="spacingAndGlyphs">F-actin</text>
<line x1="297.50" y1="183.90" x2="311.30" y2="183.90" stroke="#1d3f85" stroke-width="1.5"/>
<text x="314.80" y="186.60" font-size="8.32" fill="#1d3f85" stroke="#1d3f85" stroke-width="0.1" textLength="16.00" lengthAdjust="spacingAndGlyphs">CTRL</text>
<line x1="297.50" y1="195.40" x2="311.30" y2="195.40" stroke="#b5123e" stroke-width="1.5"/>
<text x="314.80" y="198.10" font-size="8.32" fill="#b5123e" stroke="#b5123e" stroke-width="0.1" textLength="27.20" lengthAdjust="spacingAndGlyphs">shDNM2</text>
<line x1="297.50" y1="206.60" x2="311.30" y2="206.60" stroke="#6cb33f" stroke-width="1.6" stroke-dasharray="3.2 1.8"/>
<text x="314.80" y="209.30" font-size="8.32" fill="#6cb33f" stroke="#6cb33f" stroke-width="0.1" textLength="27.40" lengthAdjust="spacingAndGlyphs">shDNM3</text>
<line x1="297.50" y1="217.80" x2="311.30" y2="217.80" stroke="#4b2a7b" stroke-width="1.6" stroke-dasharray="3.2 1.8"/>
<text x="314.80" y="220.50" font-size="8.32" fill="#4b2a7b" stroke="#4b2a7b" stroke-width="0.1" textLength="36.20" lengthAdjust="spacingAndGlyphs">shDNM2-3</text>
<text x="357.35" y="209.00" font-size="9.5" fill="#231f20" stroke="#231f20" stroke-width="0.1" textLength="61.90" lengthAdjust="spacingAndGlyphs" transform="rotate(-90 388.30 209.00)">F-actin staining</text>
<text x="374.50" y="209.10" font-size="9.5" fill="#231f20" stroke="#231f20" stroke-width="0.1" textLength="45.80" lengthAdjust="spacingAndGlyphs" transform="rotate(-90 397.40 209.10)">(% of CTRL)</text>
<line x1="423.40" y1="175.80" x2="423.40" y2="245.40" stroke="#1a1a1a" stroke-width="1.2"/>
<line x1="420.20" y1="176.30" x2="423.40" y2="176.30" stroke="#1a1a1a" stroke-width="1.0"/>
<text x="406.60" y="179.30" font-size="8.64" fill="#231f20" stroke="#231f20" stroke-width="0.1" textLength="12.40" lengthAdjust="spacingAndGlyphs">110</text>
<line x1="420.20" y1="187.72" x2="423.40" y2="187.72" stroke="#1a1a1a" stroke-width="1.0"/>
<text x="406.60" y="190.72" font-size="8.64" fill="#231f20" stroke="#231f20" stroke-width="0.1" textLength="12.40" lengthAdjust="spacingAndGlyphs">100</text>
<line x1="420.20" y1="199.14" x2="423.40" y2="199.14" stroke="#1a1a1a" stroke-width="1.0"/>
<text x="410.70" y="202.14" font-size="8.64" fill="#231f20" stroke="#231f20" stroke-width="0.1" textLength="8.30" lengthAdjust="spacingAndGlyphs">90</text>
<line x1="420.20" y1="210.56" x2="423.40" y2="210.56" stroke="#1a1a1a" stroke-width="1.0"/>
<text x="410.70" y="213.56" font-size="8.64" fill="#231f20" stroke="#231f20" stroke-width="0.1" textLength="8.30" lengthAdjust="spacingAndGlyphs">80</text>
<line x1="420.20" y1="221.98" x2="423.40" y2="221.98" stroke="#1a1a1a" stroke-width="1.0"/>
<text x="410.70" y="224.98" font-size="8.64" fill="#231f20" stroke="#231f20" stroke-width="0.1" textLength="8.30" lengthAdjust="spacingAndGlyphs">70</text>
<line x1="420.20" y1="233.40" x2="423.40" y2="233.40" stroke="#1a1a1a" stroke-width="1.0"/>
<text x="410.70" y="236.40" font-size="8.64" fill="#231f20" stroke="#231f20" stroke-width="0.1" textLength="8.30" lengthAdjust="spacingAndGlyphs">60</text>
<line x1="420.20" y1="244.82" x2="423.40" y2="244.82" stroke="#1a1a1a" stroke-width="1.0"/>
<text x="410.70" y="247.82" font-size="8.64" fill="#231f20" stroke="#231f20" stroke-width="0.1" textLength="8.30" lengthAdjust="spacingAndGlyphs">50</text>
<line x1="423.40" y1="244.80" x2="501.50" y2="244.80" stroke="#1a1a1a" stroke-width="1.3"/>
<line x1="435.20" y1="244.80" x2="435.20" y2="247.50" stroke="#1a1a1a" stroke-width="1.0"/>
<line x1="453.10" y1="244.80" x2="453.10" y2="247.50" stroke="#1a1a1a" stroke-width="1.0"/>
<line x1="471.00" y1="244.80" x2="471.00" y2="247.50" stroke="#1a1a1a" stroke-width="1.0"/>
<line x1="489.20" y1="244.80" x2="489.20" y2="247.50" stroke="#1a1a1a" stroke-width="1.0"/>
<path d="M429.20,244.80 L429.20,186.90 L441.20,186.90 L441.20,244.80" fill="none" stroke="#4f6ea8" stroke-width="1.1"/>
<path d="M429.40,187.75 L432.40,187.75 L430.90,185.05 Z" fill="#1b3a7a"/>
<path d="M432.50,187.75 L435.50,187.75 L434.00,185.05 Z" fill="#1b3a7a"/>
<path d="M435.60,187.75 L438.60,187.75 L437.10,185.05 Z" fill="#1b3a7a"/>
<path d="M438.70,187.75 L441.70,187.75 L440.20,185.05 Z" fill="#1b3a7a"/>
<path d="M446.80,244.80 L446.80,217.20 L459.30,217.20 L459.30,244.80" fill="none" stroke="#c0284f" stroke-width="1.1"/>
<line x1="453.10" y1="211.10" x2="453.10" y2="223.20" stroke="#222" stroke-width="0.9"/>
<line x1="450.10" y1="211.10" x2="456.10" y2="211.10" stroke="#222" stroke-width="0.9"/>
<line x1="450.10" y1="223.20" x2="456.10" y2="223.20" stroke="#222" stroke-width="0.9"/>
<rect x="451.45" y="200.85" width="3.3" height="3.3" fill="#b0103a"/>
<path d="M451.30,210.58 L454.90,210.58 L453.10,213.82 Z" fill="#b0103a"/>
<circle cx="455.40" cy="225.60" r="1.8" fill="#b0103a"/>
<rect x="449.35" y="227.55" width="3.3" height="3.3" fill="#b0103a"/>
<path d="M464.40,244.80 L464.40,207.40 L477.70,207.40 L477.70,244.80" fill="none" stroke="#7cbc5a" stroke-width="1.1"/>
<line x1="471.00" y1="201.20" x2="471.00" y2="213.80" stroke="#222" stroke-width="0.9"/>
<line x1="468.00" y1="201.20" x2="474.00" y2="201.20" stroke="#222" stroke-width="0.9"/>
<line x1="468.00" y1="213.80" x2="474.00" y2="213.80" stroke="#222" stroke-width="0.9"/>
<path d="M469.35,196.49 L472.65,196.49 L471.00,193.51 Z" fill="#6cb33f"/>
<path d="M469.35,205.09 L472.65,205.09 L471.00,202.11 Z" fill="#6cb33f"/>
<path d="M469.35,211.39 L472.65,211.39 L471.00,208.41 Z" fill="#6cb33f"/>
<path d="M469.35,225.99 L472.65,225.99 L471.00,223.01 Z" fill="#6cb33f"/>
<path d="M482.70,244.80 L482.70,217.20 L495.80,217.20 L495.80,244.80" fill="none" stroke="#6a4a94" stroke-width="1.1"/>
<line x1="489.20" y1="211.40" x2="489.20" y2="222.80" stroke="#222" stroke-width="0.9"/>
<line x1="486.20" y1="211.40" x2="492.20" y2="211.40" stroke="#222" stroke-width="0.9"/>
<line x1="486.20" y1="222.80" x2="492.20" y2="222.80" stroke="#222" stroke-width="0.9"/>
<path d="M487.55,206.81 L490.85,206.81 L489.20,209.79 Z" fill="#4b2a7b"/>
<path d="M491.55,212.31 L494.85,212.31 L493.20,215.29 Z" fill="#4b2a7b"/>
<path d="M485.35,210.51 L488.65,210.51 L487.00,213.49 Z" fill="#4b2a7b"/>
<path d="M487.55,231.61 L490.85,231.61 L489.20,234.59 Z" fill="#4b2a7b"/>
<path d="M433.50,180.40 L433.50,168.80 L488.80,168.80 L488.80,180.40" fill="none" stroke="#222" stroke-width="1.0"/>
<path d="M436.60,180.80 L436.60,177.80 L453.30,177.80 L453.30,180.80" fill="none" stroke="#222" stroke-width="1.0"/>
<text x="461.00" y="169.54" font-size="9.0" fill="#231f20" text-anchor="middle">*</text>
<text x="444.60" y="178.54" font-size="9.0" fill="#231f20" text-anchor="middle">*</text>
<text x="421.90" y="254.00" font-size="9.29" fill="#231f20" stroke="#231f20" stroke-width="0.1" textLength="16.10" lengthAdjust="spacingAndGlyphs" transform="rotate(-45 438.00 254.00)">CTRL</text>
<text x="427.10" y="254.00" font-size="9.29" fill="#231f20" stroke="#231f20" stroke-width="0.1" textLength="29.70" lengthAdjust="spacingAndGlyphs" transform="rotate(-45 456.80 254.00)">shDNM2</text>
<text x="444.80" y="254.00" font-size="9.29" fill="#231f20" stroke="#231f20" stroke-width="0.1" textLength="29.70" lengthAdjust="spacingAndGlyphs" transform="rotate(-45 474.50 254.00)">shDNM3</text>
<text x="455.90" y="254.00" font-size="9.29" fill="#231f20" stroke="#231f20" stroke-width="0.1" textLength="36.70" lengthAdjust="spacingAndGlyphs" transform="rotate(-45 492.60 254.00)">shDNM2-3</text>
<text x="69.70" y="281.90" font-size="9.83" fill="#231f20" stroke="#231f20" stroke-width="0.1" textLength="77.60" lengthAdjust="spacingAndGlyphs">Active RhoA in MKs</text>
<text x="0.90" y="359.70" font-size="9.5" fill="#231f20" stroke="#231f20" stroke-width="0.1" textLength="56.60" lengthAdjust="spacingAndGlyphs" transform="rotate(-90 29.20 359.70)">OD at 490 nm</text>
<text x="-6.85" y="359.65" font-size="9.5" fill="#231f20" stroke="#231f20" stroke-width="0.1" textLength="91.30" lengthAdjust="spacingAndGlyphs" transform="rotate(-90 38.80 359.65)">(as percent of control)</text>
<line x1="62.80" y1="311.50" x2="62.80" y2="411.30" stroke="#1a1a1a" stroke-width="1.2"/>
<line x1="59.60" y1="312.00" x2="62.80" y2="312.00" stroke="#1a1a1a" stroke-width="1.0"/>
<text x="45.60" y="315.00" font-size="8.64" fill="#231f20" stroke="#231f20" stroke-width="0.1" textLength="12.10" lengthAdjust="spacingAndGlyphs">150</text>
<line x1="59.60" y1="344.90" x2="62.80" y2="344.90" stroke="#1a1a1a" stroke-width="1.0"/>
<text x="45.60" y="347.90" font-size="8.64" fill="#231f20" stroke="#231f20" stroke-width="0.1" textLength="12.10" lengthAdjust="spacingAndGlyphs">100</text>
<line x1="59.60" y1="377.80" x2="62.80" y2="377.80" stroke="#1a1a1a" stroke-width="1.0"/>
<text x="49.60" y="380.80" font-size="8.64" fill="#231f20" stroke="#231f20" stroke-width="0.1" textLength="8.10" lengthAdjust="spacingAndGlyphs">50</text>
<line x1="59.60" y1="410.70" x2="62.80" y2="410.70" stroke="#1a1a1a" stroke-width="1.0"/>
<text x="53.70" y="413.70" font-size="8.64" fill="#231f20" stroke="#231f20" stroke-width="0.1" textLength="4.00" lengthAdjust="spacingAndGlyphs">0</text>
<line x1="62.80" y1="410.70" x2="118.70" y2="410.70" stroke="#1a1a1a" stroke-width="1.3"/>
<line x1="79.90" y1="410.70" x2="79.90" y2="413.40" stroke="#1a1a1a" stroke-width="1.0"/>
<line x1="104.75" y1="410.70" x2="104.75" y2="413.40" stroke="#1a1a1a" stroke-width="1.0"/>
<path d="M71.70,410.70 L71.70,345.00 L88.20,345.00 L88.20,410.70" fill="none" stroke="#4f6ea8" stroke-width="1.1"/>
<circle cx="75.20" cy="344.80" r="1.9" fill="#1b3a7a"/>
<circle cx="79.90" cy="344.80" r="1.9" fill="#1b3a7a"/>
<circle cx="84.60" cy="344.80" r="1.9" fill="#1b3a7a"/>
<path d="M96.20,410.70 L96.20,377.10 L113.30,377.10 L113.30,410.70" fill="none" stroke="#c0284f" stroke-width="1.1"/>
<line x1="104.75" y1="371.70" x2="104.75" y2="383.30" stroke="#222" stroke-width="0.9"/>
<line x1="101.55" y1="371.70" x2="107.95" y2="371.70" stroke="#222" stroke-width="0.9"/>
<line x1="101.55" y1="383.30" x2="107.95" y2="383.30" stroke="#222" stroke-width="0.9"/>
<rect x="99.80" y="367.50" width="3.4" height="3.4" fill="#b0103a"/>
<rect x="105.40" y="370.60" width="3.4" height="3.4" fill="#b0103a"/>
<rect x="102.90" y="387.90" width="3.4" height="3.4" fill="#b0103a"/>
<path d="M78.90,331.40 L78.90,326.70 L104.00,326.70 L104.00,331.40" fill="none" stroke="#222" stroke-width="1.0"/>
<text x="91.10" y="326.44" font-size="9.0" fill="#231f20" text-anchor="middle">*</text>
<text x="66.70" y="420.60" font-size="9.29" fill="#231f20" stroke="#231f20" stroke-width="0.1" textLength="16.30" lengthAdjust="spacingAndGlyphs" transform="rotate(-45 83.00 420.60)">CTRL</text>
<text x="88.50" y="420.80" font-size="9.29" fill="#231f20" stroke="#231f20" stroke-width="0.1" textLength="19.30" lengthAdjust="spacingAndGlyphs" transform="rotate(-45 107.80 420.80)">DNSR</text>
<g clip-path="url(#cblot)"><g filter="url(#tx2)"><rect x="120" y="297" width="61" height="46" fill="#8a8a8a"/>
<g filter="url(#bl)"><ellipse cx="135.8" cy="320.2" rx="10.5" ry="1.7" fill="#4a4a4a"/><ellipse cx="159.6" cy="320.2" rx="9.8" ry="1.7" fill="#4a4a4a"/></g></g></g>
<text x="126.30" y="295.00" font-size="8.21" fill="#231f20" stroke="#231f20" stroke-width="0.1" textLength="17.00" lengthAdjust="spacingAndGlyphs">CTRL</text>
<text x="151.80" y="295.00" font-size="8.21" fill="#231f20" stroke="#231f20" stroke-width="0.1" textLength="18.90" lengthAdjust="spacingAndGlyphs">DNSR</text>
<text x="182.80" y="322.80" font-size="8.32" fill="#231f20" stroke="#231f20" stroke-width="0.1" textLength="20.90" lengthAdjust="spacingAndGlyphs">21kDa</text>
<text x="132.10" y="351.40" font-size="8.42" fill="#231f20" stroke="#231f20" stroke-width="0.1" textLength="36.10" lengthAdjust="spacingAndGlyphs">Total RhoA</text>
<text x="137.80" y="360.60" font-size="8.42" fill="#231f20" stroke="#231f20" stroke-width="0.1" textLength="24.70" lengthAdjust="spacingAndGlyphs">loading</text>
<text x="277.50" y="334.80" font-size="9.83" fill="#231f20" stroke="#231f20" stroke-width="0.1" textLength="60.60" lengthAdjust="spacingAndGlyphs">CXCR4 staining</text>
<text x="277.90" y="346.30" font-size="9.83" fill="#231f20" stroke="#231f20" stroke-width="0.1" textLength="59.30" lengthAdjust="spacingAndGlyphs">on human MKs</text>
<text x="231.90" y="346.80" font-size="8.21" fill="#231f20" stroke="#231f20" stroke-width="0.1" textLength="19.30" lengthAdjust="spacingAndGlyphs">count</text>
<path d="M268.00,410.80 L269.40,410.40 L270.80,410.00 L272.00,408.97 L273.20,408.20 L274.40,406.90 L275.85,404.58 L277.30,401.20 L278.35,398.60 L279.40,394.70 L280.50,391.67 L281.60,386.70 L282.70,384.38 L283.80,381.00 L285.20,380.13 L286.60,377.40 L288.05,375.26 L289.50,375.20 L290.60,374.02 L291.70,373.00 L292.75,372.93 L293.80,370.90 L294.90,370.48 L296.00,369.40 L297.50,368.00 L298.55,368.13 L299.60,366.50 L300.70,364.60 L301.80,364.40 L302.85,363.58 L303.90,362.90 L305.40,362.20 L306.80,368.00 L308.30,370.10 L309.35,369.19 L310.40,369.40 L311.50,370.60 L312.60,371.60 L313.70,373.56 L314.80,375.20 L315.85,375.58 L316.90,378.10 L318.00,379.28 L319.10,381.70 L320.20,383.01 L321.30,385.30 L322.35,388.37 L323.40,389.60 L324.50,393.08 L325.60,395.40 L327.05,397.55 L328.50,401.20 L329.70,403.52 L330.90,403.74 L332.10,406.20 L333.18,407.41 L334.25,407.28 L335.32,409.05 L336.40,410.00 L337.60,410.27 L338.80,410.53 L340.00,410.80" fill="none" stroke="#1d3f85" stroke-width="1.4" stroke-linejoin="round"/>
<path d="M271.00,410.80 L273.70,410.00 L278.00,407.60 L282.30,402.60 L288.10,397.50 L293.80,391.80 L298.20,386.00 L301.10,382.40 L301.30,378.80 L303.90,381.00 L306.80,382.40 L309.70,381.00 L311.90,380.20 L314.80,382.40 L317.60,385.30 L320.50,390.30 L323.40,396.80 L326.30,402.60 L329.90,406.90 L334.20,410.00 L338.00,410.80" fill="none" stroke="#b5123e" stroke-width="1.6" stroke-linejoin="round" stroke-dasharray="2.9 1.9"/>
<line x1="255.00" y1="349.20" x2="255.00" y2="411.40" stroke="#1a1a1a" stroke-width="1.2"/>
<line x1="251.80" y1="355.80" x2="255.00" y2="355.80" stroke="#1a1a1a" stroke-width="1.0"/>
<text x="237.10" y="358.80" font-size="8.64" fill="#231f20" stroke="#231f20" stroke-width="0.1" textLength="12.20" lengthAdjust="spacingAndGlyphs">150</text>
<line x1="251.80" y1="374.10" x2="255.00" y2="374.10" stroke="#1a1a1a" stroke-width="1.0"/>
<text x="237.10" y="377.10" font-size="8.64" fill="#231f20" stroke="#231f20" stroke-width="0.1" textLength="12.20" lengthAdjust="spacingAndGlyphs">100</text>
<line x1="251.80" y1="392.50" x2="255.00" y2="392.50" stroke="#1a1a1a" stroke-width="1.0"/>
<text x="241.20" y="395.50" font-size="8.64" fill="#231f20" stroke="#231f20" stroke-width="0.1" textLength="8.10" lengthAdjust="spacingAndGlyphs">50</text>
<line x1="251.80" y1="410.80" x2="255.00" y2="410.80" stroke="#1a1a1a" stroke-width="1.0"/>
<text x="245.30" y="413.80" font-size="8.64" fill="#231f20" stroke="#231f20" stroke-width="0.1" textLength="4.00" lengthAdjust="spacingAndGlyphs">0</text>
<line x1="253.60" y1="410.80" x2="255.00" y2="410.80" stroke="#1a1a1a" stroke-width="0.8"/>
<line x1="253.60" y1="407.13" x2="255.00" y2="407.13" stroke="#1a1a1a" stroke-width="0.8"/>
<line x1="253.60" y1="403.46" x2="255.00" y2="403.46" stroke="#1a1a1a" stroke-width="0.8"/>
<line x1="253.60" y1="399.79" x2="255.00" y2="399.79" stroke="#1a1a1a" stroke-width="0.8"/>
<line x1="253.60" y1="396.12" x2="255.00" y2="396.12" stroke="#1a1a1a" stroke-width="0.8"/>
<line x1="253.60" y1="392.45" x2="255.00" y2="392.45" stroke="#1a1a1a" stroke-width="0.8"/>
<line x1="253.60" y1="388.78" x2="255.00" y2="388.78" stroke="#1a1a1a" stroke-width="0.8"/>
<line x1="253.60" y1="385.11" x2="255.00" y2="385.11" stroke="#1a1a1a" stroke-width="0.8"/>
<line x1="253.60" y1="381.44" x2="255.00" y2="381.44" stroke="#1a1a1a" stroke-width="0.8"/>
<line x1="253.60" y1="377.77" x2="255.00" y2="377.77" stroke="#1a1a1a" stroke-width="0.8"/>
<line x1="253.60" y1="374.10" x2="255.00" y2="374.10" stroke="#1a1a1a" stroke-width="0.8"/>
<line x1="253.60" y1="370.43" x2="255.00" y2="370.43" stroke="#1a1a1a" stroke-width="0.8"/>
<line x1="253.60" y1="366.76" x2="255.00" y2="366.76" stroke="#1a1a1a" stroke-width="0.8"/>
<line x1="253.60" y1="363.09" x2="255.00" y2="363.09" stroke="#1a1a1a" stroke-width="0.8"/>
<line x1="253.60" y1="359.42" x2="255.00" y2="359.42" stroke="#1a1a1a" stroke-width="0.8"/>
<line x1="253.60" y1="355.75" x2="255.00" y2="355.75" stroke="#1a1a1a" stroke-width="0.8"/>
<line x1="253.60" y1="352.08" x2="255.00" y2="352.08" stroke="#1a1a1a" stroke-width="0.8"/>
<line x1="255.00" y1="410.80" x2="360.00" y2="410.80" stroke="#1a1a1a" stroke-width="1.2"/>
<line x1="284.90" y1="410.80" x2="284.90" y2="413.80" stroke="#1a1a1a" stroke-width="1.0"/>
<line x1="263.27" y1="410.80" x2="263.27" y2="412.30" stroke="#1a1a1a" stroke-width="0.8"/>
<line x1="294.22" y1="410.80" x2="294.22" y2="412.30" stroke="#1a1a1a" stroke-width="0.8"/>
<line x1="268.72" y1="410.80" x2="268.72" y2="412.30" stroke="#1a1a1a" stroke-width="0.8"/>
<line x1="299.67" y1="410.80" x2="299.67" y2="412.30" stroke="#1a1a1a" stroke-width="0.8"/>
<line x1="272.58" y1="410.80" x2="272.58" y2="412.30" stroke="#1a1a1a" stroke-width="0.8"/>
<line x1="303.53" y1="410.80" x2="303.53" y2="412.30" stroke="#1a1a1a" stroke-width="0.8"/>
<line x1="275.58" y1="410.80" x2="275.58" y2="412.30" stroke="#1a1a1a" stroke-width="0.8"/>
<line x1="306.53" y1="410.80" x2="306.53" y2="412.30" stroke="#1a1a1a" stroke-width="0.8"/>
<line x1="278.03" y1="410.80" x2="278.03" y2="412.30" stroke="#1a1a1a" stroke-width="0.8"/>
<line x1="308.98" y1="410.80" x2="308.98" y2="412.30" stroke="#1a1a1a" stroke-width="0.8"/>
<line x1="280.11" y1="410.80" x2="280.11" y2="412.30" stroke="#1a1a1a" stroke-width="0.8"/>
<line x1="311.06" y1="410.80" x2="311.06" y2="412.30" stroke="#1a1a1a" stroke-width="0.8"/>
<line x1="281.90" y1="410.80" x2="281.90" y2="412.30" stroke="#1a1a1a" stroke-width="0.8"/>
<line x1="312.85" y1="410.80" x2="312.85" y2="412.30" stroke="#1a1a1a" stroke-width="0.8"/>
<line x1="283.48" y1="410.80" x2="283.48" y2="412.30" stroke="#1a1a1a" stroke-width="0.8"/>
<line x1="314.43" y1="410.80" x2="314.43" y2="412.30" stroke="#1a1a1a" stroke-width="0.8"/>
<line x1="315.85" y1="410.80" x2="315.85" y2="413.80" stroke="#1a1a1a" stroke-width="1.0"/>
<line x1="294.22" y1="410.80" x2="294.22" y2="412.30" stroke="#1a1a1a" stroke-width="0.8"/>
<line x1="325.17" y1="410.80" x2="325.17" y2="412.30" stroke="#1a1a1a" stroke-width="0.8"/>
<line x1="299.67" y1="410.80" x2="299.67" y2="412.30" stroke="#1a1a1a" stroke-width="0.8"/>
<line x1="330.62" y1="410.80" x2="330.62" y2="412.30" stroke="#1a1a1a" stroke-width="0.8"/>
<line x1="303.53" y1="410.80" x2="303.53" y2="412.30" stroke="#1a1a1a" stroke-width="0.8"/>
<line x1="334.48" y1="410.80" x2="334.48" y2="412.30" stroke="#1a1a1a" stroke-width="0.8"/>
<line x1="306.53" y1="410.80" x2="306.53" y2="412.30" stroke="#1a1a1a" stroke-width="0.8"/>
<line x1="337.48" y1="410.80" x2="337.48" y2="412.30" stroke="#1a1a1a" stroke-width="0.8"/>
<line x1="308.98" y1="410.80" x2="308.98" y2="412.30" stroke="#1a1a1a" stroke-width="0.8"/>
<line x1="339.93" y1="410.80" x2="339.93" y2="412.30" stroke="#1a1a1a" stroke-width="0.8"/>
<line x1="311.06" y1="410.80" x2="311.06" y2="412.30" stroke="#1a1a1a" stroke-width="0.8"/>
<line x1="342.01" y1="410.80" x2="342.01" y2="412.30" stroke="#1a1a1a" stroke-width="0.8"/>
<line x1="312.85" y1="410.80" x2="312.85" y2="412.30" stroke="#1a1a1a" stroke-width="0.8"/>
<line x1="343.80" y1="410.80" x2="343.80" y2="412.30" stroke="#1a1a1a" stroke-width="0.8"/>
<line x1="314.43" y1="410.80" x2="314.43" y2="412.30" stroke="#1a1a1a" stroke-width="0.8"/>
<line x1="345.38" y1="410.80" x2="345.38" y2="412.30" stroke="#1a1a1a" stroke-width="0.8"/>
<line x1="346.80" y1="410.80" x2="346.80" y2="413.80" stroke="#1a1a1a" stroke-width="1.0"/>
<line x1="325.17" y1="410.80" x2="325.17" y2="412.30" stroke="#1a1a1a" stroke-width="0.8"/>
<line x1="356.12" y1="410.80" x2="356.12" y2="412.30" stroke="#1a1a1a" stroke-width="0.8"/>
<line x1="330.62" y1="410.80" x2="330.62" y2="412.30" stroke="#1a1a1a" stroke-width="0.8"/>
<line x1="334.48" y1="410.80" x2="334.48" y2="412.30" stroke="#1a1a1a" stroke-width="0.8"/>
<line x1="337.48" y1="410.80" x2="337.48" y2="412.30" stroke="#1a1a1a" stroke-width="0.8"/>
<line x1="339.93" y1="410.80" x2="339.93" y2="412.30" stroke="#1a1a1a" stroke-width="0.8"/>
<line x1="342.01" y1="410.80" x2="342.01" y2="412.30" stroke="#1a1a1a" stroke-width="0.8"/>
<line x1="343.80" y1="410.80" x2="343.80" y2="412.30" stroke="#1a1a1a" stroke-width="0.8"/>
<line x1="345.38" y1="410.80" x2="345.38" y2="412.30" stroke="#1a1a1a" stroke-width="0.8"/>
<text x="280.50" y="423.70" font-size="8.21" fill="#231f20" stroke="#231f20" stroke-width="0.1" textLength="8.00" lengthAdjust="spacingAndGlyphs">10</text>
<text x="289.10" y="420.30" font-size="6.05" fill="#231f20" stroke="#231f20" stroke-width="0.1" textLength="2.40" lengthAdjust="spacingAndGlyphs">3</text>
<text x="311.50" y="423.70" font-size="8.21" fill="#231f20" stroke="#231f20" stroke-width="0.1" textLength="8.00" lengthAdjust="spacingAndGlyphs">10</text>
<text x="320.10" y="420.30" font-size="6.05" fill="#231f20" stroke="#231f20" stroke-width="0.1" textLength="2.40" lengthAdjust="spacingAndGlyphs">4</text>
<text x="342.40" y="423.70" font-size="8.21" fill="#231f20" stroke="#231f20" stroke-width="0.1" textLength="8.00" lengthAdjust="spacingAndGlyphs">10</text>
<text x="351.00" y="420.30" font-size="6.05" fill="#231f20" stroke="#231f20" stroke-width="0.1" textLength="2.40" lengthAdjust="spacingAndGlyphs">5</text>
<text x="366.40" y="424.00" font-size="8.42" fill="#231f20" stroke="#231f20" stroke-width="0.1" textLength="22.10" lengthAdjust="spacingAndGlyphs">CXCR4</text>
<line x1="337.80" y1="363.90" x2="347.60" y2="363.90" stroke="#1d3f85" stroke-width="1.5"/>
<text x="351.00" y="366.60" font-size="8.32" fill="#1d3f85" stroke="#1d3f85" stroke-width="0.1" textLength="15.40" lengthAdjust="spacingAndGlyphs">CTRL</text>
<line x1="337.80" y1="375.60" x2="347.60" y2="375.60" stroke="#b5123e" stroke-width="1.9" stroke-dasharray="3.4 1.8"/>
<text x="351.00" y="378.30" font-size="8.32" fill="#b5123e" stroke="#b5123e" stroke-width="0.1" textLength="17.80" lengthAdjust="spacingAndGlyphs">DNSR</text>
<text x="396.90" y="370.20" font-size="9.5" fill="#231f20" stroke="#231f20" stroke-width="0.1" textLength="63.00" lengthAdjust="spacingAndGlyphs" transform="rotate(-90 428.40 370.20)">CXCR4 staining</text>
<text x="389.25" y="369.50" font-size="9.5" fill="#231f20" stroke="#231f20" stroke-width="0.1" textLength="98.70" lengthAdjust="spacingAndGlyphs" transform="rotate(-90 438.60 369.50)">(MFI, percent of control)</text>
<line x1="463.70" y1="330.50" x2="463.70" y2="411.10" stroke="#1a1a1a" stroke-width="1.2"/>
<line x1="460.50" y1="331.00" x2="463.70" y2="331.00" stroke="#1a1a1a" stroke-width="1.0"/>
<text x="445.90" y="334.00" font-size="8.64" fill="#231f20" stroke="#231f20" stroke-width="0.1" textLength="13.40" lengthAdjust="spacingAndGlyphs">120</text>
<line x1="460.50" y1="344.25" x2="463.70" y2="344.25" stroke="#1a1a1a" stroke-width="1.0"/>
<text x="445.90" y="347.25" font-size="8.64" fill="#231f20" stroke="#231f20" stroke-width="0.1" textLength="13.40" lengthAdjust="spacingAndGlyphs">115</text>
<line x1="460.50" y1="357.50" x2="463.70" y2="357.50" stroke="#1a1a1a" stroke-width="1.0"/>
<text x="445.90" y="360.50" font-size="8.64" fill="#231f20" stroke="#231f20" stroke-width="0.1" textLength="13.40" lengthAdjust="spacingAndGlyphs">110</text>
<line x1="460.50" y1="370.75" x2="463.70" y2="370.75" stroke="#1a1a1a" stroke-width="1.0"/>
<text x="445.90" y="373.75" font-size="8.64" fill="#231f20" stroke="#231f20" stroke-width="0.1" textLength="13.40" lengthAdjust="spacingAndGlyphs">105</text>
<line x1="460.50" y1="384.00" x2="463.70" y2="384.00" stroke="#1a1a1a" stroke-width="1.0"/>
<text x="445.90" y="387.00" font-size="8.64" fill="#231f20" stroke="#231f20" stroke-width="0.1" textLength="13.40" lengthAdjust="spacingAndGlyphs">100</text>
<line x1="460.50" y1="397.25" x2="463.70" y2="397.25" stroke="#1a1a1a" stroke-width="1.0"/>
<text x="450.40" y="400.25" font-size="8.64" fill="#231f20" stroke="#231f20" stroke-width="0.1" textLength="8.90" lengthAdjust="spacingAndGlyphs">95</text>
<line x1="460.50" y1="410.50" x2="463.70" y2="410.50" stroke="#1a1a1a" stroke-width="1.0"/>
<text x="450.40" y="413.50" font-size="8.64" fill="#231f20" stroke="#231f20" stroke-width="0.1" textLength="8.90" lengthAdjust="spacingAndGlyphs">90</text>
<line x1="463.70" y1="410.50" x2="517.60" y2="410.50" stroke="#1a1a1a" stroke-width="1.3"/>
<line x1="477.70" y1="410.50" x2="477.70" y2="413.20" stroke="#1a1a1a" stroke-width="1.0"/>
<line x1="499.10" y1="410.50" x2="499.10" y2="413.20" stroke="#1a1a1a" stroke-width="1.0"/>
<path d="M470.40,410.50 L470.40,384.10 L485.00,384.10 L485.00,410.50" fill="none" stroke="#4f6ea8" stroke-width="1.1"/>
<circle cx="473.60" cy="383.90" r="1.7" fill="#1b3a7a"/>
<circle cx="477.70" cy="383.90" r="1.7" fill="#1b3a7a"/>
<circle cx="481.80" cy="383.90" r="1.7" fill="#1b3a7a"/>
<path d="M491.70,410.50 L491.70,357.80 L506.40,357.80 L506.40,410.50" fill="none" stroke="#c0284f" stroke-width="1.1"/>
<line x1="499.10" y1="347.80" x2="499.10" y2="367.80" stroke="#222" stroke-width="0.9"/>
<line x1="495.90" y1="347.80" x2="502.30" y2="347.80" stroke="#222" stroke-width="0.9"/>
<line x1="495.90" y1="367.80" x2="502.30" y2="367.80" stroke="#222" stroke-width="0.9"/>
<circle cx="499.10" cy="347.80" r="1.8" fill="#b0103a"/>
<circle cx="499.10" cy="357.80" r="1.8" fill="#b0103a"/>
<circle cx="499.10" cy="367.80" r="1.8" fill="#b0103a"/>
<path d="M477.10,341.00 L477.10,335.70 L498.60,335.70 L498.60,341.00" fill="none" stroke="#222" stroke-width="1.0"/>
<text x="487.60" y="336.44" font-size="9.0" fill="#231f20" text-anchor="middle">*</text>
<text x="464.50" y="419.80" font-size="9.29" fill="#231f20" stroke="#231f20" stroke-width="0.1" textLength="16.50" lengthAdjust="spacingAndGlyphs" transform="rotate(-45 481.00 419.80)">CTRL</text>
<text x="482.90" y="420.20" font-size="9.29" fill="#231f20" stroke="#231f20" stroke-width="0.1" textLength="19.70" lengthAdjust="spacingAndGlyphs" transform="rotate(-45 502.60 420.20)">DNSR</text>
<rect x="0" y="0" width="520" height="1.3" fill="#141414"/><rect x="0" y="443.5" width="520" height="1.5" fill="#141414"/><rect x="0" y="0" width="1.35" height="445" fill="#181818"/><rect x="518.5" y="0" width="1.5" height="445" fill="#141414"/>
</svg>
</body></html>
